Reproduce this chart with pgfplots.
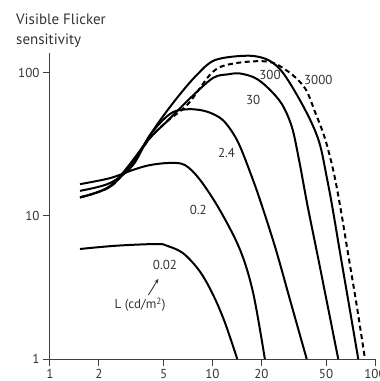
\documentclass[border=0pt]{standalone}
\usepackage{fontspec}
\setmainfont{PT Sans}
\usepackage{pgfplots}
\pgfplotsset{compat=1.18}
\definecolor{txt}{HTML}{333333}
\begin{document}
\begin{tikzpicture}
\path[use as bounding box] (-50pt,-22pt) rectangle (330pt,359pt);
\begin{axis}[
  at={(0pt,0pt)}, anchor=south west,
  scale only axis, width=325pt, height=306pt,
  xmode=log, ymode=log,
  xmin=1, xmax=100, ymin=1, ymax=138,
  axis x line*=bottom, axis y line*=left,
  axis line style={line width=1pt, color=black!75, -},
  xtick={1,2,5,10,20,50,100}, xticklabels={1,2,5,10,20,50,100},
  ytick={1,10,100}, yticklabels={1,10,100},
  xminorticks=false, yminorticks=false,
  tick align=outside, major tick length=7pt,
  tick style={line width=1pt, color=black!75},
  ticklabel style={font=\fontsize{13}{15}\selectfont, text=txt},
  clip mode=individual,
  curve/.style={line width=2pt, black, smooth, tension=0.55, mark=none},
]
% L = 0.02
\addplot[curve] coordinates {(1.53,5.88) (2.57,6.2) (4.54,6.37) (5.23,6.2) (6.61,5.48) (8.38,4.08) (10.1,2.80) (11.9,1.81) (14.2,1)};
% L = 0.2
\addplot[curve] coordinates {(1.53,16.7) (2.34,18.4) (3.24,21.0) (4.12,22.7) (5.47,23.5) (6.77,22.7) (8.38,17.9) (11.1,11.0) (14.8,5.78) (17.8,2.89) (21.0,1)};
% L = 2.4
\addplot[curve] coordinates {(1.53,15.0) (2.34,17.0) (3.24,22.7) (4.12,36.8) (5.47,51.7) (6.77,55.6) (8.38,55.1) (10.07,51.7) (11.9,45.4) (14.35,32.9) (17.4,19.0) (20.1,11.9) (24.6,5.78) (30.0,2.59) (38.0,1)};
% L = 30
\addplot[curve] coordinates {(1.53,13.5) (2.34,16.0) (3.24,23.9) (4.12,35.1) (5.23,45.7) (7.27,66.5) (10.07,92.3) (12.5,97.9) (14.77,99.2) (18.3,92.3) (22.0,78.5) (26.7,60.7) (30.8,41.9) (34.1,24.6) (38.4,11.9) (44.3,5.33) (51.0,2.39) (59.4,1)};
% L = 300
\addplot[curve] coordinates {(1.53,13.5) (2.34,16.2) (3.42,26.7) (4.54,43.3) (6.02,66.5) (8.0,96.8) (10.4,123.3) (16.6,132.1) (22.0,123.3) (26.8,102.1) (33.1,70.2) (40.4,45.7) (45.9,31.4) (50.6,18.4) (54.4,11.9) (61.3,5.33) (69.2,2.39) (78.9,1)};
% L = 3000 (dashed)
\addplot[curve, dash pattern=on 5pt off 3.5pt] coordinates {(1.53,13.5) (2.34,16.0) (3.24,23.9) (4.12,35.1) (5.23,45.7) (7.07,60.7) (10.07,102.1) (13.75,116.9) (22.0,120) (29.3,102.1) (37.1,78.2) (42.7,53.6) (49.2,34.9) (55.6,20.4) (61.3,11.4) (68.5,5.33) (77.1,2.39) (86.8,1)};
\begin{scope}[every node/.style={font=\fontsize{13}{15}\selectfont, text=txt, inner sep=0pt}]
\node at (axis cs:22.6,96.8) {300};
\node at (axis cs:44.8,89.3) {3000};
\node at (axis cs:17.8,64.7) {30};
\node at (axis cs:12.2,27.4) {2.4};
\node at (axis cs:8.18,11.1) {0.2};
\node at (axis cs:5.1,4.54) {0.02};
\node at (axis cs:3.58,2.39) {L (cd/m\textsuperscript{2})};
\end{scope}
\draw[-stealth, line width=0.9pt, txt] (axis cs:4.03,2.80) -- (axis cs:4.64,3.63);
\end{axis}
\node[anchor=west, align=left, font=\fontsize{15}{19.5}\selectfont, text=txt, inner sep=0pt] at (-34pt,328.5pt) {Visible Flicker\\sensitivity};
\end{tikzpicture}
\end{document}
